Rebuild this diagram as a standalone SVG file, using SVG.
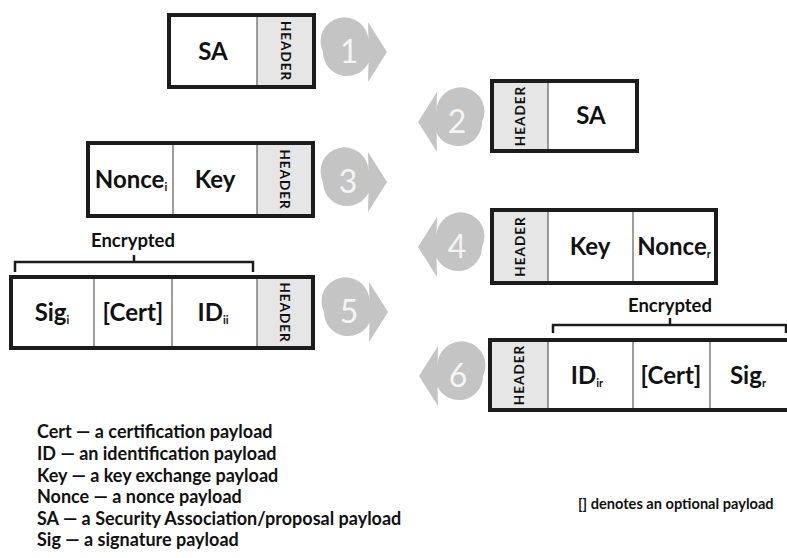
<svg xmlns="http://www.w3.org/2000/svg" xmlns:xlink="http://www.w3.org/1999/xlink" width="787" height="558" viewBox="0 0 787 558">
<style>
.frame{fill:none;stroke:#1c1c1c;stroke-width:4}
.hdr{fill:#e6e6e6}
.div{stroke:#6a6a6a;stroke-width:1.3}
.lbl{font-family:"Lato","Open Sans",sans-serif;font-weight:700;font-size:24px;fill:#111;text-anchor:middle}
.sub{font-size:11px}
.htxt{font-family:"Lato","Open Sans",sans-serif;font-weight:700;font-size:13.5px;fill:#111;text-anchor:middle;letter-spacing:1px}
.num{font-family:"Lato","Open Sans",sans-serif;font-weight:400;font-size:32px;fill:#f4f4f4;text-anchor:middle}
.arr{fill:#c4c4c4}
.br{fill:none;stroke:#1c1c1c;stroke-width:2.5}
.enc{font-family:"Lato","Open Sans",sans-serif;font-weight:700;font-size:18.5px;fill:#111;text-anchor:middle}
.leg{font-family:"Lato","Open Sans",sans-serif;font-weight:700;font-size:18px;fill:#111}
.note{font-family:"Lato","Open Sans",sans-serif;font-weight:700;font-size:14.6px;fill:#111}
</style>
<defs>
<path id="rarrow" d="M -24 0 A 24 24 0 1 1 21.5 -10.7 L 21 -30 L 40 0 L 21 30 L 21.5 10.7 A 24 24 0 0 1 -24 0 Z"/>
</defs>

<g id="box1">
<rect class="hdr" x="257" y="15" width="57" height="72"/>
<line class="div" x1="257" y1="15" x2="257" y2="87"/>
<rect class="frame" x="169" y="15" width="145" height="72"/>
<text class="lbl" x="213" y="60">SA</text>
<text class="htxt" transform="translate(285.5,51) rotate(90)" y="5">HEADER</text>
</g>

<g id="box2">
<rect class="hdr" x="492" y="81" width="56" height="70"/>
<line class="div" x1="548" y1="81" x2="548" y2="151"/>
<rect class="frame" x="492" y="81" width="145" height="70"/>
<text class="lbl" x="591" y="124">SA</text>
<text class="htxt" transform="translate(520,116) rotate(-90)" y="5">HEADER</text>
</g>

<g id="box3">
<rect class="hdr" x="257" y="143" width="56" height="73"/>
<line class="div" x1="173" y1="143" x2="173" y2="216"/>
<line class="div" x1="257" y1="143" x2="257" y2="216"/>
<rect class="frame" x="88" y="143" width="225" height="73"/>
<text class="lbl" x="131" y="188">Nonce<tspan class="sub" dy="3">i</tspan></text>
<text class="lbl" x="215" y="188">Key</text>
<text class="htxt" transform="translate(285,179.5) rotate(90)" y="5">HEADER</text>
</g>

<g id="box4">
<rect class="hdr" x="492" y="210" width="56" height="73"/>
<line class="div" x1="548" y1="210" x2="548" y2="283"/>
<line class="div" x1="633" y1="210" x2="633" y2="283"/>
<rect class="frame" x="492" y="210" width="224" height="73"/>
<text class="lbl" x="590" y="255">Key</text>
<text class="lbl" x="674" y="255">Nonce<tspan class="sub" dy="3">r</tspan></text>
<text class="htxt" transform="translate(520,246.5) rotate(-90)" y="5">HEADER</text>
</g>

<g id="box5">
<rect class="hdr" x="257" y="277" width="56" height="71"/>
<line class="div" x1="94" y1="277" x2="94" y2="348"/>
<line class="div" x1="172" y1="277" x2="172" y2="348"/>
<line class="div" x1="257" y1="277" x2="257" y2="348"/>
<rect class="frame" x="11" y="277" width="302" height="71"/>
<text class="lbl" x="52" y="321">Sig<tspan class="sub" dy="3">i</tspan></text>
<text class="lbl" x="133" y="321">[Cert]</text>
<text class="lbl" x="213" y="321">ID<tspan class="sub" dy="3">ii</tspan></text>
<text class="htxt" transform="translate(285,312.5) rotate(90)" y="5">HEADER</text>
</g>

<g id="box6">
<rect class="hdr" x="490" y="340" width="58" height="70"/>
<line class="div" x1="548" y1="340" x2="548" y2="410"/>
<line class="div" x1="633" y1="340" x2="633" y2="410"/>
<line class="div" x1="710" y1="340" x2="710" y2="410"/>
<rect class="frame" x="490" y="340" width="310" height="70"/>
<text class="lbl" x="587" y="384">ID<tspan class="sub" dy="3">ir</tspan></text>
<text class="lbl" x="671" y="384">[Cert]</text>
<text class="lbl" x="748" y="384">Sig<tspan class="sub" dy="3">r</tspan></text>
<text class="htxt" transform="translate(519,375) rotate(-90)" y="5">HEADER</text>
</g>

<g id="step1"><use class="arr" xlink:href="#rarrow" transform="translate(347,52)"/><text class="num" x="349" y="63">1</text></g>
<g id="step2"><use class="arr" xlink:href="#rarrow" transform="translate(458,122) scale(-1,1)"/><text class="num" x="457" y="133">2</text></g>
<g id="step3"><use class="arr" xlink:href="#rarrow" transform="translate(347,182)"/><text class="num" x="348" y="193">3</text></g>
<g id="step4"><use class="arr" xlink:href="#rarrow" transform="translate(458,247) scale(-1,1)"/><text class="num" x="457" y="258">4</text></g>
<g id="step5"><use class="arr" xlink:href="#rarrow" transform="translate(348,312)"/><text class="num" x="349" y="323">5</text></g>
<g id="step6"><use class="arr" xlink:href="#rarrow" transform="translate(459,376) scale(-1,1)"/><text class="num" x="458" y="387">6</text></g>

<g id="connectors">
<g id="bracket5">
<path class="br" d="M15 272 V262 H253 V272 M134 262 V255"/>
<text class="enc" x="133" y="247">Encrypted</text>
</g>
<g id="bracket6">
<path class="br" d="M553 333 V325 H786 V333 M670 325 V318"/>
<text class="enc" x="670" y="312">Encrypted</text>
</g>
</g>

<g id="legend">
<text class="leg" x="37" y="438">Cert — a certification payload</text>
<text class="leg" x="37" y="460">ID — an identification payload</text>
<text class="leg" x="37" y="481.5">Key — a key exchange payload</text>
<text class="leg" x="37" y="503">Nonce — a nonce payload</text>
<text class="leg" x="37" y="524.5">SA — a Security Association/proposal payload</text>
<text class="leg" x="37" y="546">Sig — a signature payload</text>
<text class="note" x="578" y="509">[] denotes an optional payload</text>
</g>
</svg>
